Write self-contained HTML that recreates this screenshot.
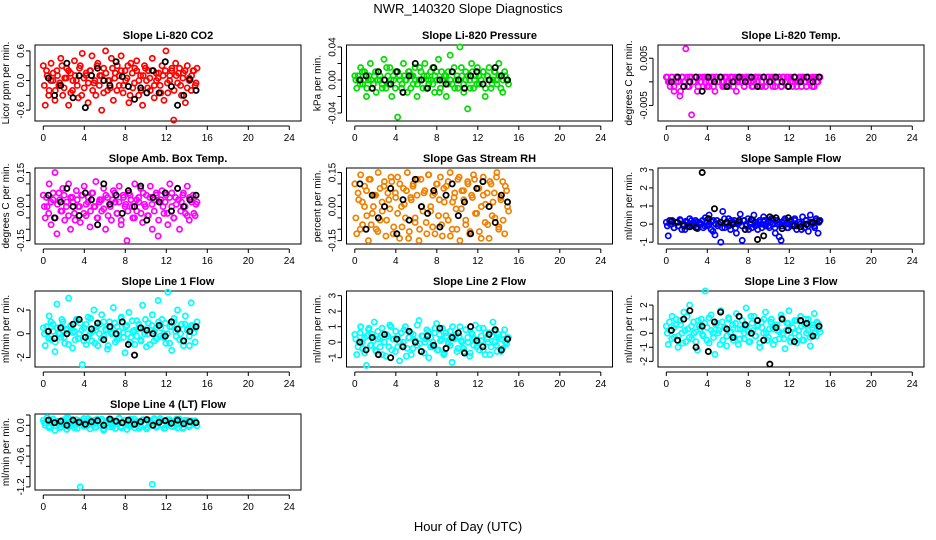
<!DOCTYPE html>
<html><head><meta charset="utf-8"><style>
html,body{margin:0;padding:0;background:#fff}
svg{display:block;font-family:"Liberation Sans",sans-serif}
</style></head><body>
<svg id="chart" width="936" height="540" viewBox="0 0 936 540">
<text x="468" y="13" font-size="13" text-anchor="middle">NWR_140320  Slope Diagnostics</text>
<text x="468" y="531" font-size="13" text-anchor="middle">Hour of Day (UTC)</text>
</svg>
<script>
const xTicks=[0,4,8,12,16,20,24];
const titles=["Slope Li-820 CO2","Slope Li-820 Pressure","Slope Li-820 Temp.","Slope Amb. Box Temp.","Slope Gas Stream RH","Slope Sample Flow","Slope Line 1 Flow","Slope Line 2 Flow","Slope Line 3 Flow","Slope Line 4 (LT) Flow"];
const yTitles=["Licor ppm per min.","kPa per min.","degrees C per min.","degrees C per min.","percent per min.","ml/min per min.","ml/min per min.","ml/min per min.","ml/min per min.","ml/min per min."];
const yRanges=[[-0.82,0.72],[-0.0497,0.0424],[-0.0083,0.0078],[-0.165,0.17],[-0.165,0.17],[-1.1,3.1],[-2.8,3.6],[-1.6,3.3],[-2.4,3.0],[-1.26,0.22]];
const yTickVals=[[-0.6,-0.3,0,0.3,0.6],[-0.04,-0.02,0,0.02,0.04],[-0.005,0,0.005],[-0.15,-0.1,-0.05,0,0.05,0.1,0.15],[-0.15,-0.1,-0.05,0,0.05,0.1,0.15],[-1,0,1,2,3],[-2,0,2],[-1,0,1,2,3],[-2,-1,0,1,2],[-1.2,-1.0,-0.8,-0.6,-0.4,-0.2,0,0.2]];
const yTickLabels=[["-0.6","","0.0","","0.6"],["-0.04","","0.00","","0.04"],["-0.005","","0.005"],["-0.15","","","0.00","","","0.15"],["-0.15","","","0.00","","","0.15"],["-1","0","1","2","3"],["-2","0","2"],["-1","0","1","2","3"],["-2","-1","0","1","2"],["-1.2","","","-0.6","","","0.0",""]];
const colors=["#ff0000","#00dd00","#ff00ff","#ff00ff","#f08000","#0000ff","#00ffff","#00ffff","#00ffff","#00ffff"];
const colorSeries=[
[0.3,-0.5,0.1,-0.2,0.35,0.0,-0.4,0.2,-0.1,0.45,-0.3,0.05,0.25,-0.5,0.15,-0.2,0.4,0.0,-0.35,0.3,0.55,-0.15,0.1,-0.45,0.2,0.5,-0.05,-0.3,0.35,0.1,-0.6,0.25,0.6,-0.2,0.0,0.45,-0.4,0.15,0.3,-0.1,0.5,-0.25,0.2,0.05,-0.45,0.35,-0.15,0.25,0.4,-0.3,0.1,-0.5,0.3,0.0,0.2,-0.2,0.45,-0.35,0.15,0.05,-0.1,0.3,-0.4,0.6,-0.25,0.1,0.2,-0.8,0.35,-0.05,0.25,-0.3,0.15,-0.45,0.3,0.05,-0.2,0.2,-0.1,0.25],
[0.005,-0.01,0.0,0.015,-0.005,0.01,-0.02,0.0,0.02,-0.01,0.005,-0.015,0.01,0.0,-0.005,0.025,-0.01,0.005,0.015,-0.02,0.0,0.01,-0.045,0.005,-0.01,0.02,0.0,-0.015,0.01,0.005,-0.005,0.015,-0.02,0.0,0.01,-0.01,0.02,0.005,-0.005,0.0,0.015,-0.015,0.01,0.025,-0.01,0.0,0.005,-0.02,0.01,0.03,-0.005,0.015,0.0,-0.01,0.04,0.005,-0.015,0.01,-0.035,0.0,0.02,-0.01,0.005,0.015,-0.005,0.0,0.01,-0.02,0.005,0.015,-0.01,0.0,0.01,-0.005,0.02,0.005,-0.015,0.01,0.0,-0.005],
[0.001,0.0,-0.001,0.001,-0.002,0.0,0.001,-0.003,0.001,0.0,0.007,-0.001,0.001,-0.007,0.0,0.001,-0.002,0.001,0.0,-0.001,0.001,0.001,-0.001,0.0,0.001,-0.002,0.001,0.0,0.001,-0.001,0.001,0.0,-0.001,0.001,0.001,0.0,-0.002,0.001,0.0,0.001,-0.001,0.001,0.0,0.001,-0.001,0.0,0.001,0.001,-0.001,0.0,0.001,-0.001,0.001,0.0,0.001,0.001,-0.001,0.0,0.001,-0.001,0.001,0.0,0.001,-0.001,0.001,0.0,0.001,-0.001,0.0,0.001,0.001,0.0,-0.001,0.001,0.0,0.001,-0.001,0.001,0.0,0.001],
[0.05,-0.05,0.0,0.1,-0.08,0.03,0.15,-0.12,0.06,-0.02,0.08,-0.06,0.02,0.1,-0.1,0.04,-0.03,0.07,0.0,-0.07,0.05,0.09,-0.04,0.02,-0.09,0.06,0.0,0.11,-0.05,0.03,-0.02,0.08,-0.1,0.04,0.01,-0.06,0.07,0.02,-0.03,0.09,-0.08,0.05,0.0,-0.15,0.06,0.03,-0.05,0.1,-0.02,0.04,0.08,-0.07,0.01,0.05,-0.04,0.09,-0.1,0.03,0.06,-0.13,0.02,0.07,-0.03,0.05,-0.08,0.1,0.0,-0.05,0.04,0.08,-0.1,0.02,0.06,-0.03,0.09,-0.06,0.03,0.05,-0.04,0.02],
[0.1,-0.12,0.03,0.14,-0.08,0.0,0.07,-0.15,0.12,-0.03,0.05,-0.1,0.15,-0.06,0.02,0.09,-0.13,0.06,-0.01,0.11,-0.09,0.04,0.13,-0.14,0.0,0.08,-0.05,0.15,-0.11,0.03,0.1,-0.07,0.05,-0.15,0.12,-0.02,0.07,-0.12,0.14,0.0,-0.09,0.06,0.1,-0.04,0.13,-0.13,0.02,0.09,-0.06,0.15,-0.1,0.04,-0.01,0.12,-0.15,0.07,0.03,-0.08,0.11,-0.12,0.05,0.14,-0.03,0.08,-0.11,0.0,0.13,-0.07,0.06,-0.14,0.1,0.02,-0.05,0.15,-0.09,0.04,0.11,-0.12,0.07,-0.02],
[0.1,-0.65,0.0,0.2,-0.2,0.1,-0.1,0.25,-0.3,0.0,0.15,-0.15,0.3,-0.1,0.05,0.2,-0.25,0.1,0.0,-0.2,0.35,-0.1,0.5,0.15,-0.4,-0.6,0.2,0.0,-1.0,0.7,-0.2,0.1,0.3,-0.3,0.0,0.2,-0.5,0.1,0.55,-0.9,0.2,-0.1,0.3,0.0,-0.2,0.5,0.1,-0.3,0.2,0.0,0.4,-0.1,0.1,-0.2,0.3,0.0,-0.5,0.2,-0.7,-0.9,0.1,0.3,-0.2,0.0,0.2,-0.1,0.3,-0.3,0.1,0.0,0.4,-0.2,0.2,-0.4,0.5,0.1,-0.1,0.3,-0.5,0.2],
[0.5,-1.0,0.2,1.5,-0.5,0.8,-1.5,2.5,0.0,-0.3,1.0,-0.8,0.3,3.0,0.6,-1.2,0.2,1.2,-0.4,0.9,-2.6,0.5,-0.9,1.4,0.0,-0.6,2.0,0.3,-1.0,0.8,1.6,-0.2,0.4,-1.3,1.0,0.0,2.2,-0.7,0.6,-0.4,1.3,0.1,-1.6,0.7,1.8,-0.3,0.2,-0.9,1.1,0.4,-0.5,2.4,0.0,-1.1,0.9,0.3,1.6,-0.6,0.5,2.8,-0.2,1.2,0.0,-0.8,3.5,0.6,-1.4,1.0,0.2,2.0,-0.5,0.8,-1.0,1.5,0.4,-0.2,2.6,0.6,-0.7,1.0],
[0.5,-0.8,0.0,1.0,-0.4,0.3,-1.5,0.8,-0.2,0.5,1.3,-0.6,0.2,-0.3,0.9,0.0,-0.9,0.4,1.1,-0.5,0.2,0.7,-0.3,-1.2,0.6,0.0,1.0,-0.4,0.3,-0.8,0.5,0.1,-0.2,1.4,-0.6,0.4,0.0,0.8,-1.0,0.3,-0.3,0.6,1.2,-0.5,0.1,0.9,-0.7,0.4,-0.1,0.7,-1.3,0.2,0.5,-0.4,1.0,0.0,-0.6,0.8,0.3,-0.9,0.6,-0.2,1.1,0.0,-0.5,0.4,0.9,-0.8,0.2,0.6,-0.3,1.3,0.0,-0.6,0.5,0.2,-0.4,0.8,-0.1,0.3],
[0.5,-0.8,0.2,1.2,-0.3,0.6,-1.0,0.9,0.0,1.5,-0.6,0.3,2.0,-0.4,0.8,0.1,-1.2,0.5,1.0,-0.2,3.0,0.4,-0.7,1.3,0.0,-1.5,0.7,0.2,1.6,-0.5,0.4,-0.9,1.1,0.0,0.6,-0.3,1.4,-0.8,0.3,0.9,-0.4,1.8,0.1,-0.6,0.7,1.2,-0.2,0.5,-1.0,0.8,0.0,1.5,-0.5,0.3,1.0,-0.8,0.6,0.2,-0.4,1.3,0.0,-1.1,0.7,1.6,-0.3,0.4,0.9,-0.7,0.2,1.2,-0.5,0.6,0.0,1.0,-0.9,0.4,1.4,-0.2,0.7,0.1],
[0.1,0.0,0.15,-0.05,0.05,0.12,-0.1,0.08,0.02,-0.03,0.1,0.05,-0.08,0.14,0.0,0.07,-0.05,0.11,0.03,-1.2,0.09,-0.02,0.06,0.13,-0.07,0.04,0.1,-0.04,0.08,0.0,0.12,-0.1,0.05,0.09,-0.03,0.11,0.02,-0.06,0.07,0.14,-0.02,0.05,0.1,-0.08,0.03,0.12,0.0,-0.05,0.08,0.06,-0.03,0.11,0.02,-0.07,0.09,0.04,-1.15,0.1,-0.04,0.06,0.13,0.0,-0.06,0.08,0.03,0.11,-0.02,0.05,0.09,-0.05,0.12,0.01,-0.04,0.07,0.1,-0.03,0.06,0.02,0.09,-0.01]
];
const colorSeries2=[
[-0.1,0.2,-0.3,0.0,0.15,-0.2,0.1,-0.05,0.3,-0.15,0.05,0.2,-0.25,0.0,0.1,-0.1,0.25,-0.3,0.05,0.15,-0.05,0.2,-0.2,0.0,0.3,-0.1,0.1,-0.25,0.15,0.0,-0.15,0.25,0.05,-0.2,0.1,0.2,-0.1,0.0,0.3,-0.3,0.15,-0.05,0.2,0.0,-0.2,0.1,0.25,-0.15,0.05,0.2,-0.1,0.0,0.15,-0.25,0.1,0.2,-0.05,0.0,0.25,-0.2,0.1,0.15,-0.1,0.05,0.2,-0.15,0.0,0.1,0.2,-0.05],
[0.0,0.005,-0.005,0.01,0.0,-0.01,0.005,0.0,-0.005,0.01,0.0,0.005,-0.01,0.0,0.015,-0.005,0.0,0.005,-0.01,0.01,0.0,-0.005,0.005,0.0,0.01,-0.01,0.005,0.0,-0.005,0.015,0.0,0.005,-0.01,0.0,0.01,-0.005,0.005,0.0,-0.015,0.01,0.0,0.005,-0.005,0.0,0.01,-0.01,0.005,0.0,0.015,-0.005,0.0,0.005,-0.01,0.01,0.0,-0.005,0.005,0.0,0.01,-0.01,0.005,0.0,-0.005,0.01,0.0,0.005,-0.01,0.0,0.005,0.0],
[0.001,0.0,0.001,-0.001,0.001,0.0,-0.002,0.001,0.0,0.001,-0.001,0.001,0.0,0.001,-0.001,0.0,0.001,0.001,-0.001,0.0,0.001,-0.001,0.001,0.0,0.001,0.0,-0.001,0.001,0.0,0.001,-0.001,0.001,0.0,0.001,0.0,-0.001,0.001,0.001,0.0,-0.001,0.001,0.0,0.001,-0.001,0.001,0.0,0.001,0.0,-0.001,0.001,0.0,0.001,-0.001,0.001,0.0,0.001,0.0,-0.001,0.001,0.0,0.001,-0.001,0.001,0.0,0.001,0.0,-0.001,0.001,0.0,0.001],
[0.0,0.04,-0.03,0.02,0.06,-0.05,0.01,0.03,-0.02,0.05,0.0,-0.04,0.04,0.02,-0.06,0.03,0.0,0.05,-0.03,0.01,0.04,-0.02,0.06,0.0,-0.05,0.02,0.03,-0.01,0.05,-0.04,0.0,0.03,0.06,-0.03,0.02,-0.06,0.04,0.01,-0.02,0.05,0.0,-0.05,0.03,0.02,-0.03,0.06,0.0,-0.04,0.04,0.01,-0.02,0.05,-0.06,0.03,0.0,0.02,-0.03,0.04,0.06,-0.05,0.01,0.03,-0.02,0.05,0.0,-0.04,0.04,0.02,-0.03,0.01],
[-0.05,0.06,-0.1,0.02,0.09,-0.04,0.12,-0.08,0.0,0.05,-0.11,0.08,-0.02,0.11,-0.06,0.03,0.13,-0.12,0.06,-0.03,0.1,-0.09,0.01,0.07,-0.14,0.04,0.09,-0.05,0.12,-0.1,0.0,0.06,-0.07,0.14,-0.02,0.05,-0.12,0.1,0.03,-0.08,0.08,-0.04,0.11,-0.13,0.02,0.06,-0.1,0.13,-0.01,0.07,-0.06,0.1,-0.11,0.04,0.12,-0.03,0.08,-0.14,0.05,0.01,-0.08,0.11,-0.04,0.06,0.13,-0.1,0.03,-0.06,0.09,0.0],
[-0.1,0.2,0.0,-0.2,0.1,-0.1,0.2,0.0,-0.3,0.1,0.0,0.2,-0.1,0.1,-0.2,0.0,0.2,-0.1,0.1,0.0,-0.3,0.2,0.0,-0.1,0.1,-0.2,0.3,0.0,-0.1,0.2,0.1,-0.2,0.0,0.1,-0.1,0.2,0.0,-0.3,0.1,0.2,-0.1,0.0,0.1,-0.2,0.2,0.0,-0.1,0.1,0.3,-0.2,0.0,0.1,-0.1,0.2,0.0,-0.2,0.1,0.0,0.2,-0.1,0.1,-0.3,0.0,0.2,-0.1,0.1,0.0,-0.2,0.2,0.1],
[0.0,0.6,-0.4,1.0,0.2,-0.7,0.5,0.0,1.2,-0.3,0.4,-0.9,0.7,0.1,-0.5,1.1,0.0,0.3,-0.6,0.8,-0.2,1.3,0.2,-0.8,0.6,0.0,-0.4,1.0,0.3,-1.0,0.5,0.1,0.9,-0.5,0.2,1.4,-0.3,0.6,0.0,-0.7,1.1,0.3,-0.2,0.8,-0.6,0.4,1.2,0.0,-0.9,0.7,0.2,-0.4,1.0,0.5,-0.3,0.9,0.0,-0.8,0.6,1.3,-0.2,0.4,0.0,-0.6,0.8,0.3,-1.0,0.7,0.1,0.5],
[0.2,-0.3,0.6,0.0,-0.7,0.4,0.9,-0.2,0.1,-0.5,0.7,0.3,-0.8,0.0,0.5,-0.3,1.0,0.2,-0.6,0.4,0.0,-0.2,0.8,-0.9,0.3,0.6,-0.4,0.1,1.1,-0.1,0.4,-0.7,0.2,0.7,-0.3,0.0,0.9,-0.5,0.5,0.2,-0.8,0.6,0.0,-0.2,1.0,0.3,-0.6,0.4,0.1,-0.4,0.8,0.0,-0.7,0.5,0.2,-0.3,0.9,0.1,-0.5,0.6,0.0,-0.8,0.4,0.7,-0.2,0.3,-0.6,0.5,0.0,0.2],
[0.0,0.8,-0.4,0.4,1.0,-0.2,0.6,-0.7,0.2,1.2,-0.3,0.5,0.0,-0.6,0.9,0.3,-0.1,0.7,-0.5,1.1,0.2,-0.3,0.6,0.0,-0.8,0.8,0.4,-0.2,1.0,0.1,-0.5,0.7,0.3,-0.4,0.9,0.0,0.5,-0.6,1.2,0.2,-0.2,0.6,-0.7,0.4,1.0,0.0,-0.3,0.8,0.3,-0.5,0.6,0.1,1.1,-0.4,0.2,0.7,-0.6,0.4,0.0,0.9,-0.2,0.5,-0.5,1.0,0.2,-0.3,0.6,0.0,0.8,0.3],
[0.05,0.1,-0.02,0.08,0.12,0.0,0.06,-0.05,0.1,0.03,0.14,-0.03,0.07,0.11,0.01,-0.06,0.09,0.04,0.13,-0.02,0.06,0.1,0.0,-0.04,0.12,0.05,0.08,-0.07,0.03,0.11,0.02,-0.03,0.09,0.06,0.13,-0.05,0.04,0.1,0.0,-0.02,0.08,0.12,0.03,-0.06,0.07,0.11,0.01,-0.04,0.1,0.05,0.13,-0.01,0.06,0.09,0.0,-0.05,0.11,0.04,0.08,-0.03,0.12,0.02,0.07,-0.06,0.1,0.05,0.0,0.09,0.03,0.06]
];
const blackSeries=[
[0.05,-0.3,-0.1,0.35,-0.35,0.1,-0.55,0.1,0.25,0.0,-0.1,0.38,0.08,-0.12,-0.38,-0.15,-0.25,0.2,-0.25,0.38,-0.12,-0.5,-0.3,0.02,-0.2],
[0.0,0.005,-0.01,0.01,0.0,-0.005,0.01,-0.015,0.005,0.02,0.0,-0.01,0.015,0.0,-0.005,0.01,0.0,-0.01,0.005,0.01,-0.005,0.0,0.015,0.005,0.0],
[0.0,0.001,-0.001,0.0,0.001,-0.002,0.001,0.0,0.001,-0.001,0.0,0.001,0.0,0.001,-0.001,0.001,0.0,0.001,0.0,-0.001,0.001,0.0,0.001,0.0,0.001],
[0.05,-0.05,0.02,0.08,0.0,-0.04,0.06,0.03,-0.08,0.1,0.01,0.05,-0.03,0.07,0.0,0.09,-0.06,0.04,0.02,0.06,-0.02,0.08,0.0,0.03,0.05],
[0.1,-0.1,0.05,-0.05,0.0,0.08,-0.12,0.03,-0.06,0.12,0.0,-0.03,0.07,-0.09,0.05,0.1,-0.04,0.02,-0.12,0.08,0.11,0.0,-0.07,0.05,0.02],
[0.15,0.1,-0.1,-0.15,-0.2,2.85,0.3,0.85,0.1,0.1,0.0,0.2,-0.3,0.25,-0.85,-0.65,0.4,0.35,-0.25,0.35,-0.1,-0.15,0.0,0.1,0.15],
[0.2,-0.4,0.5,0.0,0.8,1.2,-0.3,0.4,0.9,-0.5,0.6,0.0,1.0,-0.9,-1.8,0.5,0.3,0.0,0.7,-0.2,1.0,0.4,-0.6,0.2,0.6],
[0.0,-0.5,0.3,-0.8,0.5,-1.0,0.2,-0.3,0.7,0.0,-0.6,0.4,-0.2,0.9,-0.4,0.3,0.6,-0.7,1.0,0.1,-0.3,0.5,0.8,-0.5,0.2],
[0.2,-0.5,1.0,1.6,-1.0,0.5,-1.3,0.8,1.5,0.3,-0.3,1.2,0.6,0.0,0.9,-0.5,-2.2,0.4,1.0,0.2,-0.6,0.9,0.7,-0.2,0.5],
[0.1,0.05,0.08,0.0,0.1,0.06,0.02,0.07,0.09,0.0,0.12,0.08,0.05,0.1,0.02,0.07,0.11,0.0,0.06,0.09,0.04,0.1,0.03,0.07,0.05]
];
const colorStartHour=0, colorEndHour=15, color2StartHour=0.1, color2EndHour=14.9, blackStartHour=0.5, blackStepHour=0.6;

const NS="http://www.w3.org/2000/svg";
const svg=document.getElementById('chart');
function mk(tag,attrs,parent){const e=document.createElementNS(NS,tag);for(const k in attrs)e.setAttribute(k,attrs[k]);(parent||svg).appendChild(e);return e;}
const colLeft=[35,346.5,658], boxW=266, rowTop=[45,168,291,414], boxH=76;
for(let p=0;p<10;p++){
  const c=p%3, r=Math.floor(p/3);
  const L=colLeft[c], T=rowTop[r], B=T+boxH;
  const g=mk('g',{});
  
  
  const xs=h=>L+8.3+h*10.25;
  const ys=v=>B-(v-yRanges[p][0])/(yRanges[p][1]-yRanges[p][0])*boxH;
  const box=mk('rect',{x:L,y:T,width:boxW,height:boxH,fill:'none',stroke:'#000','stroke-width':1},g);
  
  
  const t=mk('text',{x:L+boxW/2,y:T-6,'font-size':11,'font-weight':'bold','text-anchor':'middle'},g);
  t.textContent=titles[p];
  
  
  const yt=mk('text',{transform:`translate(${L-26},${T+boxH/2}) rotate(-90)`,'font-size':10,'text-anchor':'middle'},g);
  yt.textContent=yTitles[p];
  
  
  mk('line',{x1:xs(0),x2:xs(24),y1:B+5,y2:B+5,stroke:'#000'},g);
  xTicks.forEach(h=>{
    mk('line',{x1:xs(h),x2:xs(h),y1:B+5,y2:B+9,stroke:'#000'},g);
    const tl=mk('text',{x:xs(h),y:B+20,'font-size':10,'text-anchor':'middle'},g);
    tl.textContent=h;
    
    
  });
  const tv=yTickVals[p];
  mk('line',{x1:L-5,x2:L-5,y1:ys(tv[0]),y2:ys(tv[tv.length-1]),stroke:'#000'},g);
  tv.forEach((v,i)=>{
    mk('line',{x1:L-9,x2:L-5,y1:ys(v),y2:ys(v),stroke:'#000'},g);
    const tl=mk('text',{transform:`translate(${L-11},${ys(v)}) rotate(-90)`,'font-size':10,'text-anchor':'middle'},g);
    tl.textContent=yTickLabels[p][i];
    
    
  });
  const cs=colorSeries[p], n=cs.length;
  cs.forEach((v,i)=>{
    const h=colorStartHour+i*(colorEndHour-colorStartHour)/(n-1);
    const pt=mk('circle',{cx:xs(h),cy:ys(v),r:2.6,fill:'none',stroke:colors[p],'stroke-width':1.7},g);
    
    
  });
  const cs2=colorSeries2[p], n2=cs2.length;
  cs2.forEach((v,i)=>{
    const h=color2StartHour+i*(color2EndHour-color2StartHour)/(n2-1);
    const pt=mk('circle',{cx:xs(h),cy:ys(v),r:2.6,fill:'none',stroke:colors[p],'stroke-width':1.7},g);
    
    
  });
  blackSeries[p].forEach((v,i)=>{
    const h=blackStartHour+i*blackStepHour;
    const pt=mk('circle',{cx:xs(h),cy:ys(v),r:2.6,fill:'none',stroke:'#000','stroke-width':1.8},g);
    
    
  });
}
</script>
</body></html>
